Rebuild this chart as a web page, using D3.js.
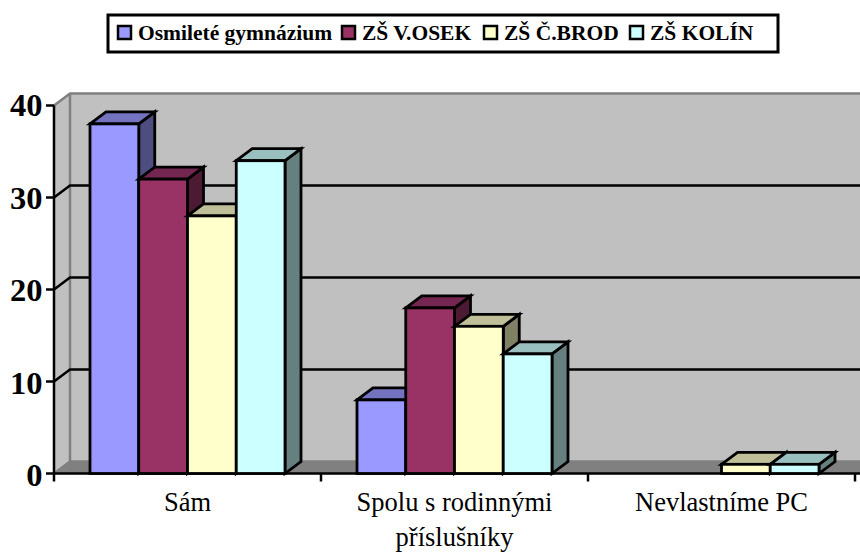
<!DOCTYPE html>
<html><head><meta charset="utf-8">
<script src="https://cdn.jsdelivr.net/npm/d3@7"></script>
<style>html,body{margin:0;padding:0;background:#fff}svg{display:block;font-family:"Liberation Serif",serif}</style>
</head><body><svg id="c" width="860" height="552"></svg>
<script>
const categories = [["Sám"], ["Spolu s rodinnými", "příslušníky"], ["Nevlastníme PC"]];
const seriesNames = ["Osmileté gymnázium", "ZŠ V.OSEK", "ZŠ Č.BROD", "ZŠ KOLÍN"];
const gymnazium = [38, 8, 0];
const osek = [32, 18, 0];
const brod = [28, 16, 1];
const kolin = [34, 13, 1];
const seriesValues = [gymnazium, osek, brod, kolin];
const yTicks = [0, 10, 20, 30, 40];
const frontColors = ["#9999ff", "#993366", "#ffffcc", "#ccffff"];
const topColors = ["#7373bf", "#732650", "#bfbf99", "#99bfbf"];
const sideColors = ["#4d4d80", "#4d1a33", "#808066", "#668080"];

const svg = d3.select("#c");
const dx = 16, dy = -12;
const y = d3.scaleLinear().domain([0, 40]).range([473.5, 105.5]);
const yLabel = d3.scaleLinear().domain([0, 40]).range([475.5, 105.5]);
const x0 = d3.scaleBand().domain(d3.range(categories.length)).range([54, 855]);
const x1 = d3.scaleBand().domain(d3.range(seriesNames.length)).range([36, 231]);
const right = 900;
const poly = pts => pts.map(p => p.join(",")).join(" ");

// walls and floor
svg.append("polygon").attr("points", poly([[54, y(0)], [54, y(40)], [54 + dx, y(40) + dy], [right, y(40) + dy], [right, y(0) + dy], [54 + dx, y(0) + dy]])).attr("fill", "#c0c0c0");
svg.append("polygon").attr("points", poly([[54, y(0)], [54 + dx, y(0) + dy], [right, y(0) + dy], [right, y(0)]])).attr("fill", "#808080");
svg.append("path").attr("d", `M54,${y(40)}L${54 + dx},${y(40) + dy}H${right}M${54 + dx},${y(40) + dy}V${y(0) + dy}H${right}M${54 + dx},${y(0) + dy}L54,${y(0)}`)
  .attr("fill", "none").attr("stroke", "#808080").attr("stroke-width", 2.5);

// gridlines
yTicks.filter(t => t > 0 && t < 40).forEach(t => {
  svg.append("path").attr("d", `M54,${y(t)}L${54 + dx},${y(t) + dy}H${right}`)
    .attr("fill", "none").attr("stroke", "#000").attr("stroke-width", 2.5);
});

// axes
svg.append("path").attr("d", `M54,${y(40)}V${y(0)}H${right}`).attr("fill", "none").attr("stroke", "#000").attr("stroke-width", 2.5);
yTicks.forEach(t => {
  svg.append("line").attr("x1", 46).attr("x2", 54).attr("y1", y(t)).attr("y2", y(t)).attr("stroke", "#000").attr("stroke-width", 2.5);
  svg.append("text").attr("x", 42.5).attr("y", yLabel(t)).attr("dy", "0.33em").attr("text-anchor", "end")
    .attr("font-size", 32.5).attr("font-weight", "bold").attr("fill", "#000").text(t);
});
d3.range(categories.length + 1).forEach(i => {
  const px = i < categories.length ? x0(i) : x0(i - 1) + x0.bandwidth();
  svg.append("line").attr("x1", px).attr("x2", px).attr("y1", y(0)).attr("y2", y(0) + 8).attr("stroke", "#000").attr("stroke-width", 2.5);
});

// bars
categories.forEach((c, ci) => {
  seriesValues.forEach((vals, si) => {
    const v = vals[ci];
    if (!v) return;
    const l = x0(ci) + x1(si), r = l + x1.bandwidth(), t = y(v), b = y(0);
    const g = svg.append("g").attr("stroke", "#000").attr("stroke-width", 2.8).attr("stroke-linejoin", "miter");
    g.append("polygon").attr("points", poly([[r, t], [r + dx, t + dy], [r + dx, b + dy], [r, b]])).attr("fill", sideColors[si]);
    g.append("polygon").attr("points", poly([[l, t], [l + dx, t + dy], [r + dx, t + dy], [r, t]])).attr("fill", topColors[si]);
    g.append("rect").attr("x", l).attr("y", t).attr("width", x1.bandwidth()).attr("height", b - t).attr("fill", frontColors[si]);
  });
});

// category labels
categories.forEach((c, ci) => {
  const cx = x0(ci) + x0.bandwidth() / 2;
  const t = svg.append("text").attr("text-anchor", "middle").attr("font-size", 26.5).attr("fill", "#000");
  c.forEach((ln, i) => t.append("tspan").attr("x", cx).attr("y", 511 + i * 35).text(ln));
});

// legend
svg.append("rect").attr("x", 108).attr("y", 15).attr("width", 670).attr("height", 37).attr("fill", "#fff").attr("stroke", "#000").attr("stroke-width", 3);
const legendX = d3.scaleOrdinal().domain(seriesNames).range([118, 342, 484, 630]);
seriesNames.forEach((n, i) => {
  svg.append("rect").attr("x", legendX(n)).attr("y", 26).attr("width", 13).attr("height", 13).attr("fill", frontColors[i]).attr("stroke", "#000").attr("stroke-width", 2.5);
  svg.append("text").attr("x", legendX(n) + 20).attr("y", 40).attr("font-size", 21.5).attr("font-weight", "bold").attr("fill", "#000").text(n);
});
</script></body></html>
